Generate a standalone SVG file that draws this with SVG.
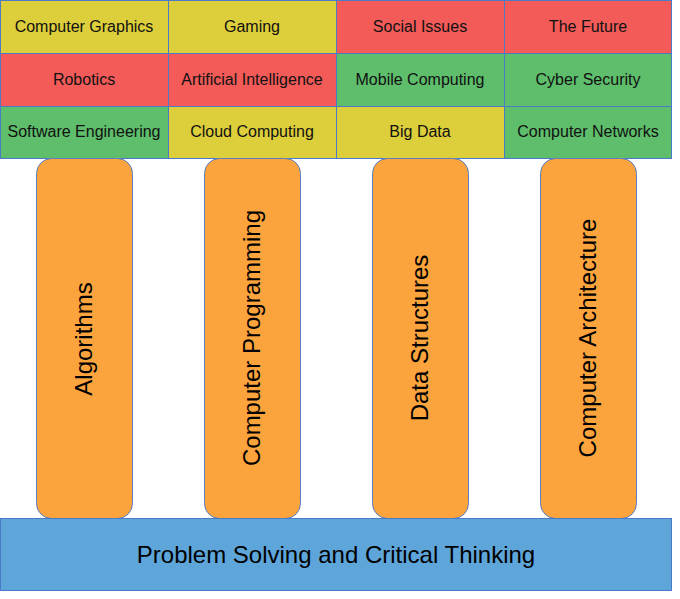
<svg xmlns="http://www.w3.org/2000/svg" width="680" height="599" viewBox="0 0 680 599">
<style>
.cell{stroke:#4a7ac8;stroke-width:1}
.y{fill:#ddce3b}.r{fill:#f25b58}.g{fill:#5ebe6b}
.ct{font-family:"Liberation Sans",Arial,sans-serif;font-size:16px;fill:#111;text-anchor:middle;dominant-baseline:central}
.pil{fill:#fba43d;stroke:#5a7fc0;stroke-width:1}
.pt{font-family:"Liberation Sans",Arial,sans-serif;font-size:24px;fill:#000;text-anchor:middle;dominant-baseline:central}
.bar{fill:#5ea5da;stroke:#4a7ac8;stroke-width:1}
.bt{font-family:"Liberation Sans",Arial,sans-serif;font-size:24px;fill:#000;text-anchor:middle;dominant-baseline:central}
</style>
<rect width="680" height="599" fill="#fff"/>
<g id="grid">
<g id="computer-graphics"><rect class="cell y" x="0.5" y="0.5" width="168" height="53"/><text class="ct" x="84" y="26">Computer Graphics</text></g>
<g id="gaming"><rect class="cell y" x="168.5" y="0.5" width="168" height="53"/><text class="ct" x="252" y="26">Gaming</text></g>
<g id="social-issues"><rect class="cell r" x="336.5" y="0.5" width="168" height="53"/><text class="ct" x="420" y="26">Social Issues</text></g>
<g id="the-future"><rect class="cell r" x="504.5" y="0.5" width="167" height="53"/><text class="ct" x="588" y="26">The Future</text></g>
<g id="robotics"><rect class="cell r" x="0.5" y="53.5" width="168" height="53"/><text class="ct" x="84" y="79">Robotics</text></g>
<g id="ai"><rect class="cell r" x="168.5" y="53.5" width="168" height="53"/><text class="ct" x="252" y="79">Artificial Intelligence</text></g>
<g id="mobile-computing"><rect class="cell g" x="336.5" y="53.5" width="168" height="53"/><text class="ct" x="420" y="79">Mobile Computing</text></g>
<g id="cyber-security"><rect class="cell g" x="504.5" y="53.5" width="167" height="53"/><text class="ct" x="588" y="79">Cyber Security</text></g>
<g id="software-engineering"><rect class="cell g" x="0.5" y="106.5" width="168" height="52"/><text class="ct" x="84" y="131">Software Engineering</text></g>
<g id="cloud-computing"><rect class="cell y" x="168.5" y="106.5" width="168" height="52"/><text class="ct" x="252" y="131">Cloud Computing</text></g>
<g id="big-data"><rect class="cell y" x="336.5" y="106.5" width="168" height="52"/><text class="ct" x="420" y="131">Big Data</text></g>
<g id="computer-networks"><rect class="cell g" x="504.5" y="106.5" width="167" height="52"/><text class="ct" x="588" y="131">Computer Networks</text></g>
</g>
<g id="connectors"></g>
<g id="algorithms"><rect class="pil" x="36.5" y="158.5" width="96" height="360" rx="15"/><text class="pt" transform="translate(83,339) rotate(-90)">Algorithms</text></g>
<g id="computer-programming"><rect class="pil" x="204.5" y="158.5" width="96" height="360" rx="15"/><text class="pt" transform="translate(251,338) rotate(-90)">Computer Programming</text></g>
<g id="data-structures"><rect class="pil" x="372.5" y="158.5" width="96" height="360" rx="15"/><text class="pt" transform="translate(419,338) rotate(-90)">Data Structures</text></g>
<g id="computer-architecture"><rect class="pil" x="540.5" y="158.5" width="96" height="360" rx="15"/><text class="pt" transform="translate(587,338) rotate(-90)">Computer Architecture</text></g>
<g id="problem-solving"><rect class="bar" x="0.5" y="518.5" width="671" height="72"/><text class="bt" x="336" y="554">Problem Solving and Critical Thinking</text></g>
</svg>
